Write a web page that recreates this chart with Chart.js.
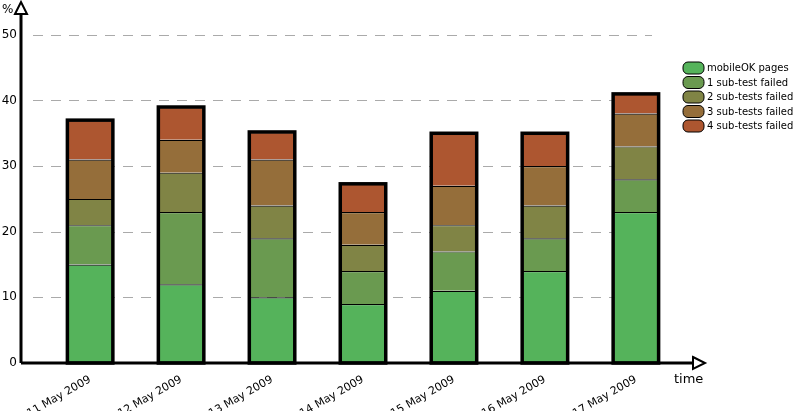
<!DOCTYPE html>
<html><head><meta charset="utf-8">
<script src="https://cdn.jsdelivr.net/npm/chart.js@4"></script>
<style>html,body{margin:0;padding:0;background:#fff}#w{width:795px;height:411px}</style>
</head><body><div id="w"><canvas id="c"></canvas></div>
<script>
const categories = ['11 May 2009','12 May 2009','13 May 2009','14 May 2009','15 May 2009','16 May 2009','17 May 2009'];
const seriesNames = ['mobileOK pages','1 sub-test failed','2 sub-tests failed','3 sub-tests failed','4 sub-tests failed'];
const mobileOK = [15, 12, 10, 9, 11, 14, 23];
const failed1 = [6, 11, 9, 5, 6, 5, 5];
const failed2 = [4, 6, 5, 4, 4, 5, 5];
const failed3 = [6, 5, 7, 5, 6, 6, 5];
const failed4 = [6, 5, 4.2, 4.3, 8, 5, 3];
const yTicks = [0, 10, 20, 30, 40, 50];
const colors = ['#55b35b','#6a9a50','#808445','#956e3a','#ad5630'];
const series = [mobileOK, failed1, failed2, failed3, failed4];
const F = 'DejaVu Sans';

const deco = {
  id: 'deco',
  beforeDatasetsDraw(ch) {
    const {ctx, chartArea: a, scales: {y}} = ch;
    ctx.save();
    ctx.strokeStyle = '#aaa'; ctx.lineWidth = 1.2; ctx.setLineDash([10, 8]);
    yTicks.forEach(t => { if (t > 0) { const py = Math.round(y.getPixelForValue(t)) + 0.5; ctx.beginPath(); ctx.moveTo(a.left + 12, py); ctx.lineTo(652, py); ctx.stroke(); } });
    ctx.restore();
  },
  afterDraw(ch) {
    const {ctx, chartArea: a, scales: {y}} = ch;
    ctx.save();
    const n = ch.data.datasets.length;
    const m0 = ch.getDatasetMeta(0).data, mL = ch.getDatasetMeta(n - 1).data;
    ctx.strokeStyle = '#000'; ctx.lineWidth = 3.5;
    m0.forEach((b, i) => {
      const top = mL[i].y, bot = b.base, w = b.width;
      ctx.strokeRect(b.x - w / 2, top, w, bot - top);
    });
    ctx.lineWidth = 3; ctx.beginPath();
    ctx.moveTo(a.left, a.bottom); ctx.lineTo(a.right - 10, a.bottom);
    ctx.moveTo(a.left, a.bottom); ctx.lineTo(a.left, a.top + 12);
    ctx.stroke();
    ctx.lineWidth = 2; ctx.fillStyle = '#fff';
    ctx.beginPath(); ctx.moveTo(a.right - 12, a.bottom - 6); ctx.lineTo(a.right, a.bottom); ctx.lineTo(a.right - 12, a.bottom + 6); ctx.closePath(); ctx.fill(); ctx.stroke();
    ctx.beginPath(); ctx.moveTo(a.left - 6, a.top + 12); ctx.lineTo(a.left, a.top); ctx.lineTo(a.left + 6, a.top + 12); ctx.closePath(); ctx.fill(); ctx.stroke();
    ctx.fillStyle = '#000'; ctx.font = '12px "' + F + '"';
    ctx.textAlign = 'right'; ctx.textBaseline = 'middle';
    yTicks.forEach(t => ctx.fillText(String(t), a.left - 4, y.getPixelForValue(t)));
    ctx.textAlign = 'left';
    ctx.fillText('%', 2, 10);
    ctx.font = '13px "' + F + '"';
    ctx.fillText('time', 674, 380);
    ctx.font = '10px "' + F + '"';
    seriesNames.forEach((s, i) => {
      const yy = 62 + i * 14.5;
      ctx.beginPath(); ctx.roundRect(683, yy, 21, 12, 5);
      ctx.fillStyle = colors[i]; ctx.fill(); ctx.lineWidth = 1; ctx.strokeStyle = '#000'; ctx.stroke();
      ctx.fillStyle = '#000'; ctx.fillText(s, 707, yy + 6.5);
    });
    ctx.restore();
  }
};

new Chart(document.getElementById('c'), {
  type: 'bar',
  data: {
    datasets: series.map((arr, k) => ({
      label: seriesNames[k],
      data: arr.map((v, i) => ({x: i, y: v})),
      backgroundColor: colors[k], borderColor: '#000', borderWidth: 1.2,
      barPercentage: 0.5, categoryPercentage: 1
    }))
  },
  options: {
    responsive: true, maintainAspectRatio: false, animation: false,
    layout: {padding: {top: 2, right: 90, left: 0, bottom: 0}},
    plugins: {legend: {display: false}, tooltip: {enabled: false}},
    scales: {
      x: {
        type: 'linear', stacked: true, offset: false, min: -0.76, max: 6.76,
        grid: {display: false}, border: {display: false},
        afterFit: s => { s.height = 48; },
        afterBuildTicks: s => { s.ticks = categories.map((c, i) => ({value: i})); },
        ticks: {
          autoSkip: false, maxRotation: 30, minRotation: 30, padding: 2,
          color: '#000', font: {family: F, size: 11},
          callback: v => categories[v] ?? ''
        }
      },
      y: {
        stacked: true, min: 0, max: 55,
        grid: {display: false}, border: {display: false},
        afterFit: s => { s.width = 21; },
        afterBuildTicks: s => { s.ticks = yTicks.map(v => ({value: v})); },
        ticks: {display: false}
      }
    }
  },
  plugins: [deco]
});
</script></body></html>
